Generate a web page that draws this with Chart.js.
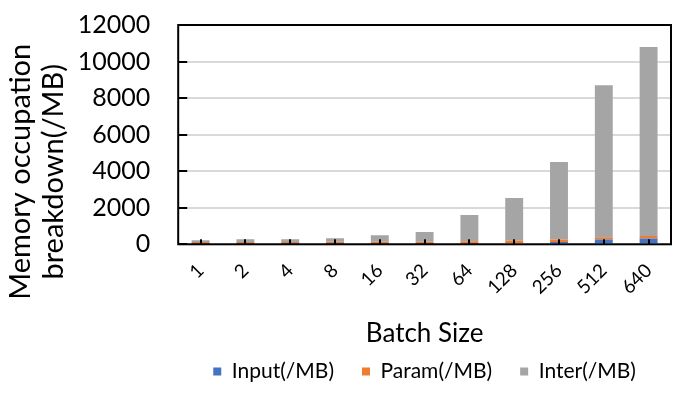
<!DOCTYPE html>
<html>
<head>
<meta charset="utf-8">
<script src="https://cdn.jsdelivr.net/npm/chart.js@4"></script>
<style>
  html, body { margin: 0; padding: 0; background: #fff; }
  #wrap { width: 690px; height: 396px; }
</style>
</head>
<body>
<div id="wrap"><canvas id="memChart"></canvas></div>
<script>
// data (MB)
const batchSizes = ["1", "2", "4", "8", "16", "32", "64", "128", "256", "512", "640"];
const inputMB = [0.5, 1, 2, 4, 8, 16, 32, 64, 128, 256, 320];
const paramMB = [130, 130, 130, 130, 130, 130, 130, 130, 130, 130, 130];
const interMB = [90, 140, 138, 196, 352, 530, 1438, 2346, 4242, 8324, 10340];
const yTicks = [0, 2000, 4000, 6000, 8000, 10000, 12000];

const font = "Lato, 'DejaVu Sans', sans-serif";

// box around the plot, inward ticks on the value axis, small marks at each category
const frame = {
  id: "frame",
  afterDatasetsDraw(chart) {
    const { ctx, chartArea: a, scales } = chart;
    ctx.save();
    ctx.fillStyle = "#000";
    // category marks
    batchSizes.forEach((_, i) => {
      const x = scales.x.getPixelForValue(i);
      ctx.fillRect(Math.round(x) - 1, a.bottom - 5, 2, 5);
    });
    // inward y ticks
    yTicks.forEach(v => {
      const y = scales.y.getPixelForValue(v);
      ctx.fillRect(a.left, Math.round(y) - 1, 9, 2);
    });
    ctx.strokeStyle = "#000";
    ctx.lineWidth = 2;
    ctx.strokeRect(a.left, a.top, a.right - a.left, a.bottom - a.top);
    ctx.restore();
  }
};

new Chart(document.getElementById("memChart"), {
  type: "bar",
  data: {
    labels: batchSizes,
    datasets: [
      { label: "Input(/MB)", data: inputMB, backgroundColor: "#4472C4" },
      { label: "Param(/MB)", data: paramMB, backgroundColor: "#ED7D31" },
      { label: "Inter(/MB)", data: interMB, backgroundColor: "#A5A5A5" },
    ],
  },
  options: {
    responsive: true,
    maintainAspectRatio: false,
    animation: false,
    layout: { padding: { top: 25, right: 19, bottom: 4, left: 4 } },
    datasets: { bar: { categoryPercentage: 1, barPercentage: 0.4, borderWidth: 0 } },
    scales: {
      x: {
        stacked: true,
        grid: { display: false },
        border: { display: false },
        ticks: {
          color: "#000",
          font: { family: font, size: 19 },
          minRotation: 45,
          maxRotation: 45,
          padding: 7,
        },
        title: {
          display: true,
          text: "Batch Size",
          color: "#000",
          font: { family: font, size: 26 },
          padding: { top: 12, bottom: -16 },
        },
      },
      y: {
        stacked: true,
        min: 0,
        max: 12000,
        afterBuildTicks: axis => { axis.ticks = yTicks.map(v => ({ value: v })); },
        // invisible tick marks make the gap between labels and axis
        grid: { color: "#D9D9D9", lineWidth: 2, drawTicks: true, tickLength: 25, tickColor: "rgba(0,0,0,0)" },
        border: { display: false },
        ticks: {
          color: "#000",
          font: { family: font, size: 25 },
          padding: 3,
          autoSkip: false,
          callback: v => String(v),
        },
        title: {
          display: true,
          // trailing spaces push the block down like the original
          text: ["Memory occupation          ", "breakdown(/MB)          "],
          color: "#000",
          font: { family: font, size: 29, lineHeight: 1.15 },
          padding: { top: 0, bottom: 4 },
        },
      },
    },
    plugins: {
      legend: {
        position: "bottom",
        fullSize: false,
        labels: {
          color: "#000",
          font: { family: font, size: 21 },
          boxWidth: 8,
          boxHeight: 8,
          padding: 28,
        },
      },
      tooltip: { enabled: false },
    },
  },
  plugins: [frame],
});
</script>
</body>
</html>
